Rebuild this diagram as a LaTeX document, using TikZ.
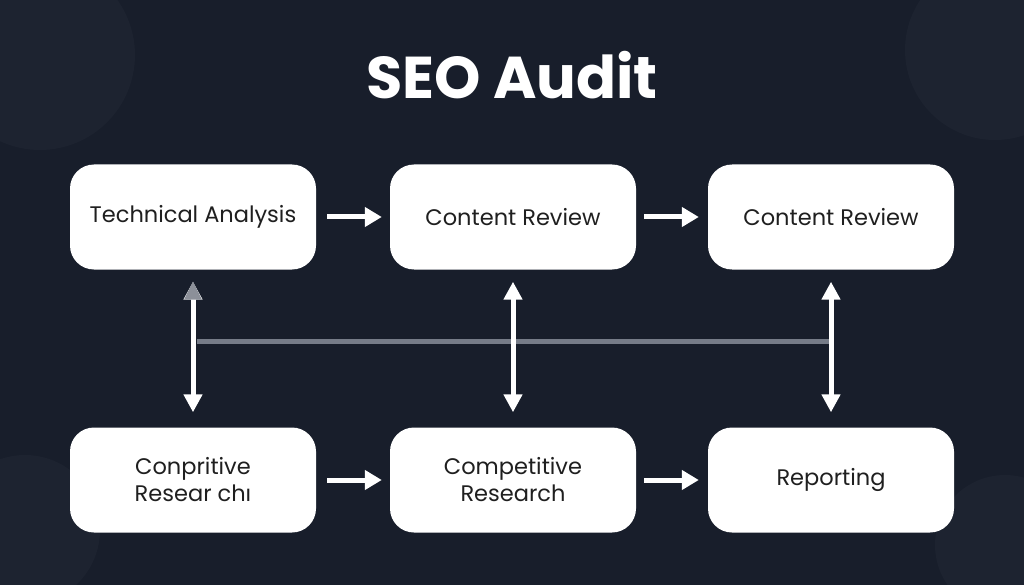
\documentclass[tikz,border=0pt]{standalone}
\usepackage{fontspec}
\setmainfont{Poppins}
\usetikzlibrary{arrows.meta}
\definecolor{bg}{HTML}{181E2B}
\definecolor{bgc}{HTML}{1D2330}
\definecolor{boxtext}{HTML}{1F1F1F}
\definecolor{midline}{HTML}{767C88}
\definecolor{fadehead}{HTML}{8C9099}
\tikzset{
  stepbox/.style={draw=none, fill=white, rounded corners=24pt, minimum width=246pt, minimum height=105pt, align=center, font=\fontsize{22.5}{27}\selectfont, text=boxtext, inner sep=0pt},
  flow/.style={draw=white, line width=5pt, -{Triangle[length=17pt,width=19pt]}},
  both/.style={draw=white, line width=5pt, {Triangle[length=18pt,width=18pt]}-{Triangle[length=18pt,width=18pt]}},
}
\begin{document}
\begin{tikzpicture}[x=1pt,y=-1pt]
\fill[bg] (0,0) rectangle (1024,585);
\useasboundingbox (0,0) rectangle (1024,585);
\fill[bgc] (40,55) circle (95);
\fill[bgc] (995,50) circle (90);
\fill[bgc] (25,530) circle (75);
\fill[bgc] (1005,545) circle (70);
\node[font=\fontsize{59}{66}\selectfont\bfseries, text=white] (title) at (512,75) {SEO Audit};
\node[stepbox] (tl) at (193,217) {Technical Analysis};
\node[stepbox] (tm) at (513,217) {Content Review};
\node[stepbox] (tr) at (831,217) {Content Review};
\node[stepbox] (bl) at (193,480) {Conpritive\\Resear chı};
\node[stepbox] (bm) at (513,480) {Competitive\\Research};
\node[stepbox] (br) at (831,480) {Reporting};
\draw[flow] ([xshift=11pt]tl.east) -- ([xshift=-8pt]tm.west);
\draw[flow] ([xshift=8pt]tm.east) -- ([xshift=-9pt]tr.west);
\draw[flow] ([xshift=11pt]bl.east) -- ([xshift=-8pt]bm.west);
\draw[flow] ([xshift=8pt]bm.east) -- ([xshift=-9pt]br.west);
\coordinate (hl) at (197,341);
\coordinate (hr) at (829,341);
\draw[midline, line width=5pt] (hl) -- (hr);
\draw[both] ([yshift=-12pt]tl.south) -- ([yshift=15pt]bl.north);
\fill[fadehead] ([yshift=-12pt]tl.south) -- ++(-9,18) -- ++(18,0) -- cycle;
\draw[both] ([yshift=-12pt]tm.south) -- ([yshift=15pt]bm.north);
\draw[both] ([yshift=-12pt]tr.south) -- ([yshift=15pt]br.north);
\end{tikzpicture}
\end{document}
